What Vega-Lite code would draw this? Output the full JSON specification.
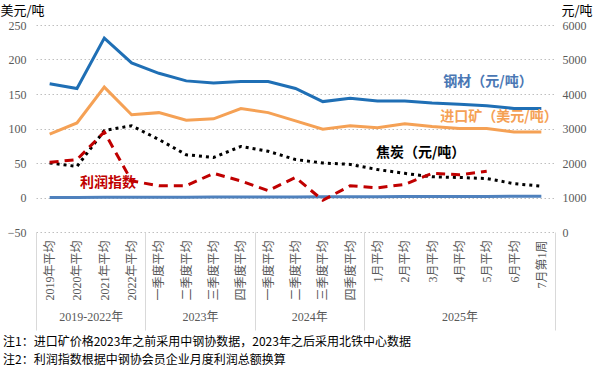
{
  "$schema": "https://vega.github.io/schema/vega-lite/v6.json",
  "width": 519,
  "height": 207,
  "autosize": {"type": "none"},
  "padding": {"left": 36, "top": 25, "right": 44, "bottom": 139},
  "background": "white",
  "config": {"view": {"stroke": null}, "font": "Noto Sans CJK SC"},
  "title": {
    "text": ["注1：进口矿价格2023年之前采用中钢协数据，2023年之后采用北铁中心数据", "注2：利润指数根据中钢协会员企业月度利润总额换算"],
    "orient": "bottom", "anchor": "start", "frame": "group", "dx": -33, "offset": 6,
    "fontSize": 12, "fontWeight": "normal", "font": "Noto Sans CJK SC", "color": "black", "lineHeight": 18
  },
  "data": {"values": [
    {"i": 0, "cat": "2019年平均", "steel": 4300, "ore": 92, "coke": 2000, "profit": 51, "base": 0},
    {"i": 1, "cat": "2020年平均", "steel": 4160, "ore": 108, "coke": 1900, "profit": 55, "base": 0.1},
    {"i": 2, "cat": "2021年平均", "steel": 5620, "ore": 160, "coke": 2940, "profit": 95, "base": 0.2},
    {"i": 3, "cat": "2022年平均", "steel": 4900, "ore": 120, "coke": 3080, "profit": 24, "base": 0.3},
    {"i": 4, "cat": "一季度平均", "steel": 4600, "ore": 123, "coke": 2680, "profit": 17, "base": 0.4},
    {"i": 5, "cat": "二季度平均", "steel": 4380, "ore": 112, "coke": 2240, "profit": 17, "base": 0.5},
    {"i": 6, "cat": "三季度平均", "steel": 4320, "ore": 114, "coke": 2160, "profit": 35, "base": 0.6},
    {"i": 7, "cat": "四季度平均", "steel": 4360, "ore": 129, "coke": 2480, "profit": 24, "base": 0.7},
    {"i": 8, "cat": "一季度平均", "steel": 4360, "ore": 123, "coke": 2340, "profit": 10, "base": 0.8},
    {"i": 9, "cat": "二季度平均", "steel": 4160, "ore": 111, "coke": 2100, "profit": 29, "base": 0.9},
    {"i": 10, "cat": "三季度平均", "steel": 3780, "ore": 99, "coke": 2000, "profit": -4, "base": 1.0},
    {"i": 11, "cat": "四季度平均", "steel": 3880, "ore": 104, "coke": 1960, "profit": 17, "base": 1.1},
    {"i": 12, "cat": "1月平均", "steel": 3800, "ore": 101, "coke": 1810, "profit": 14, "base": 1.2},
    {"i": 13, "cat": "2月平均", "steel": 3800, "ore": 107, "coke": 1700, "profit": 19, "base": 1.3},
    {"i": 14, "cat": "3月平均", "steel": 3740, "ore": 103, "coke": 1600, "profit": 35, "base": 1.4},
    {"i": 15, "cat": "4月平均", "steel": 3700, "ore": 100, "coke": 1580, "profit": 33, "base": 1.5},
    {"i": 16, "cat": "5月平均", "steel": 3660, "ore": 100, "coke": 1550, "profit": 38, "base": 1.6},
    {"i": 17, "cat": "6月平均", "steel": 3580, "ore": 95, "coke": 1400, "profit": null, "base": 1.7},
    {"i": 18, "cat": "7月第1周", "steel": 3580, "ore": 95, "coke": 1330, "profit": null, "base": 1.8}
  ]},
  "layer": [
    {
      "mark": {"type": "line", "color": "#4F81BD", "strokeWidth": 3},
      "encoding": {
        "x": {"field": "i", "type": "quantitative", "scale": {"domain": [-0.5, 18.5], "nice": false, "zero": false},
          "axis": {"orient": "bottom", "values": [-0.5, 3.5, 7.5, 11.5, 18.5], "labels": false, "domain": false, "grid": false, "ticks": true, "tickSize": 98, "tickColor": "#D9D9D9", "tickWidth": 1, "title": null}},
        "y": {"field": "base", "type": "quantitative", "scale": {"domain": [-50, 250], "nice": false, "zero": false}, "axis": null}
      }
    },
    {
      "mark": {"type": "line", "color": "#F5A155", "strokeWidth": 3},
      "encoding": {
        "x": {"field": "i", "type": "quantitative", "scale": {"domain": [-0.5, 18.5], "nice": false, "zero": false},
          "axis": {"orient": "bottom", "values": [0,1,2,3,4,5,6,7,8,9,10,11,12,13,14,15,16,17,18],
            "labelExpr": "['2019年平均','2020年平均','2021年平均','2022年平均','一季度平均','二季度平均','三季度平均','四季度平均','一季度平均','二季度平均','三季度平均','四季度平均','1月平均','2月平均','3月平均','4月平均','5月平均','6月平均','7月第1周'][datum.value]",
            "labelAngle": -90, "labelAlign": "right", "labelBaseline": "middle", "ticks": false, "domain": false, "grid": false,
            "labelPadding": 8, "labelFont": "Liberation Serif, Noto Sans CJK SC", "labelFontSize": 12, "labelColor": "#595959",
            "labelOverlap": false, "labelBound": false, "labelFlush": false, "title": null}},
        "y": {"field": "ore", "type": "quantitative", "scale": {"domain": [-50, 250], "nice": false, "zero": false},
          "axis": {"orient": "left", "values": [-50, 0, 50, 100, 150, 200, 250], "format": "d", "grid": true, "gridDash": [1.5, 2.5], "gridColor": "#BFBFBF",
            "domain": false, "ticks": false, "labelPadding": 10, "labelFont": "Liberation Serif", "labelFontSize": 12, "labelColor": "#595959",
            "title": "美元/吨", "titleAngle": 0, "titleAlign": "left", "titleBaseline": "middle", "titleX": -36, "titleY": -15,
            "titleFontSize": 13, "titleFontWeight": "normal", "titleColor": "black", "titleFont": "Noto Sans CJK SC"}}
      }
    },
    {
      "mark": {"type": "line", "color": "#1F6FB5", "strokeWidth": 3},
      "encoding": {
        "x": {"field": "i", "type": "quantitative", "scale": {"domain": [-0.5, 18.5], "nice": false, "zero": false}, "axis": null},
        "y": {"field": "steel", "type": "quantitative", "scale": {"domain": [0, 6000], "nice": false, "zero": false},
          "axis": {"orient": "right", "values": [0, 1000, 2000, 3000, 4000, 5000, 6000], "format": "d", "grid": false, "domain": false, "ticks": false,
            "labelPadding": 7, "labelFont": "Liberation Serif", "labelFontSize": 12, "labelColor": "#595959",
            "title": "元/吨", "titleAngle": 0, "titleAlign": "left", "titleBaseline": "middle", "titleX": 6, "titleY": -15,
            "titleFontSize": 13, "titleFontWeight": "normal", "titleColor": "black", "titleFont": "Noto Sans CJK SC"}}
      }
    },
    {
      "mark": {"type": "line", "color": "black", "strokeWidth": 3, "strokeDash": [3, 4]},
      "encoding": {
        "x": {"field": "i", "type": "quantitative", "scale": {"domain": [-0.5, 18.5], "nice": false, "zero": false}, "axis": null},
        "y": {"field": "coke", "type": "quantitative", "scale": {"domain": [0, 6000], "nice": false, "zero": false}, "axis": null}
      }
    },
    {
      "mark": {"type": "line", "color": "#C00000", "strokeWidth": 3, "strokeDash": [9, 6]},
      "encoding": {
        "x": {"field": "i", "type": "quantitative", "scale": {"domain": [-0.5, 18.5], "nice": false, "zero": false},
          "axis": {"orient": "bottom", "values": [1.5, 5.5, 9.5, 15],
            "labelExpr": "datum.value == 1.5 ? '2019-2022年' : datum.value == 5.5 ? '2023年' : datum.value == 9.5 ? '2024年' : '2025年'",
            "ticks": false, "domain": false, "grid": false, "labelPadding": 79, "labelAngle": 0, "labelAlign": "center", "labelBaseline": "top",
            "labelFont": "Liberation Serif, Noto Sans CJK SC", "labelFontSize": 12, "labelColor": "#595959", "labelOverlap": false, "labelFlush": false, "title": null}},
        "y": {"field": "profit", "type": "quantitative", "scale": {"domain": [-50, 250], "nice": false, "zero": false}, "axis": null}
      }
    },
    {
      "data": {"values": [{"label": "钢材（元/吨）", "i": 16.05, "v": 168}]},
      "mark": {"type": "text", "color": "#4A77B4", "fontSize": 14, "fontWeight": "bold", "font": "Noto Sans CJK SC", "align": "center", "baseline": "middle"},
      "encoding": {
        "x": {"field": "i", "type": "quantitative", "scale": {"domain": [-0.5, 18.5], "nice": false, "zero": false}, "axis": null},
        "y": {"field": "v", "type": "quantitative", "scale": {"domain": [-50, 250], "nice": false, "zero": false}, "axis": null},
        "text": {"field": "label"}
      }
    },
    {
      "data": {"values": [{"label": "进口矿（美元/吨）", "i": 16.45, "v": 117}]},
      "mark": {"type": "text", "color": "#F5A155", "fontSize": 14, "fontWeight": "bold", "font": "Noto Sans CJK SC", "align": "center", "baseline": "middle"},
      "encoding": {
        "x": {"field": "i", "type": "quantitative", "scale": {"domain": [-0.5, 18.5], "nice": false, "zero": false}, "axis": null},
        "y": {"field": "v", "type": "quantitative", "scale": {"domain": [-50, 250], "nice": false, "zero": false}, "axis": null},
        "text": {"field": "label"}
      }
    },
    {
      "data": {"values": [{"label": "焦炭（元/吨）", "i": 13.58, "v": 65}]},
      "mark": {"type": "text", "color": "black", "fontSize": 14, "fontWeight": "bold", "font": "Noto Sans CJK SC", "align": "center", "baseline": "middle"},
      "encoding": {
        "x": {"field": "i", "type": "quantitative", "scale": {"domain": [-0.5, 18.5], "nice": false, "zero": false}, "axis": null},
        "y": {"field": "v", "type": "quantitative", "scale": {"domain": [-50, 250], "nice": false, "zero": false}, "axis": null},
        "text": {"field": "label"}
      }
    },
    {
      "data": {"values": [{"label": "利润指数", "i": 2.14, "v": 21.5}]},
      "mark": {"type": "text", "color": "#C00000", "fontSize": 14, "fontWeight": "bold", "font": "Noto Sans CJK SC", "align": "center", "baseline": "middle"},
      "encoding": {
        "x": {"field": "i", "type": "quantitative", "scale": {"domain": [-0.5, 18.5], "nice": false, "zero": false}, "axis": null},
        "y": {"field": "v", "type": "quantitative", "scale": {"domain": [-50, 250], "nice": false, "zero": false}, "axis": null},
        "text": {"field": "label"}
      }
    }
  ],
  "resolve": {"scale": {"y": "independent"}, "axis": {"x": "independent", "y": "independent"}}
}
